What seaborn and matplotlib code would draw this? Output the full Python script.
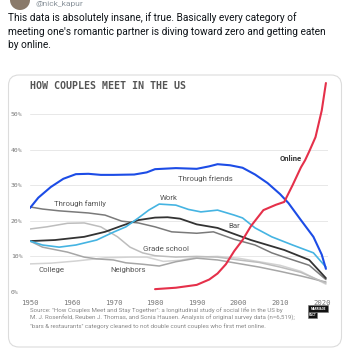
import numpy as np
import pandas as pd
import matplotlib
matplotlib.use('Agg')
import matplotlib.pyplot as plt
import seaborn as sns
from matplotlib.patches import FancyBboxPatch, Rectangle, Circle

# data (share of couples, %)
friends_years = [1950, 1952, 1955, 1958, 1961, 1964, 1967, 1970, 1975, 1978, 1980, 1985, 1990, 1993, 1995, 1998, 2001, 2004, 2007, 2010, 2012, 2015, 2018, 2020, 2021]
friends_vals = [23.6, 26.5, 29.5, 31.8, 33.1, 33.2, 32.9, 32.9, 33.0, 33.6, 34.5, 34.8, 34.6, 35.3, 35.9, 35.6, 34.9, 33.0, 30.6, 27.5, 25.0, 20.2, 15.5, 10.5, 6.5]

online_years = [1980, 1985, 1990, 1993, 1995, 1997, 1999, 2001, 2003, 2006, 2009, 2011, 2013, 2015, 2016, 2017, 2018.5, 2020, 2021]
online_vals = [0.8, 1.2, 2.0, 3.5, 5.2, 7.8, 11.5, 14.6, 18.5, 23.0, 24.5, 25.3, 30.0, 35.0, 37.0, 39.5, 43.5, 51.0, 58.7]

work_years = [1950, 1953, 1957, 1961, 1966, 1970, 1973, 1976, 1978.5, 1981, 1985, 1988, 1991, 1995, 1999, 2001, 2004, 2008, 2013, 2018, 2021]
work_vals = [14.3, 13.2, 12.6, 13.2, 14.6, 16.8, 18.3, 20.8, 23.0, 24.7, 24.4, 23.2, 22.5, 23.0, 21.6, 20.8, 18.0, 15.5, 13.2, 11.0, 7.0]

bar_years = [1950, 1956, 1963, 1968, 1972, 1976, 1980, 1983, 1986, 1990, 1995, 1999, 2003, 2007, 2011, 2017, 2021]
bar_vals = [14.3, 14.6, 15.5, 16.9, 18.6, 20.2, 20.9, 21.0, 20.6, 19.0, 18.0, 16.3, 14.6, 13.2, 11.8, 9.0, 3.9]

family_years = [1950, 1953, 1957, 1964, 1968, 1972, 1976, 1980, 1984, 1990, 1994, 1999, 2004, 2008, 2011, 2017, 2021]
family_vals = [23.9, 23.3, 22.8, 22.2, 21.6, 19.9, 19.4, 18.3, 16.9, 16.5, 16.9, 14.8, 13.2, 11.0, 9.8, 7.5, 3.5]

school_years = [1950, 1954, 1959, 1963, 1967, 1971, 1974, 1977, 1980, 1985, 1990, 1995, 2000, 2005, 2010, 2015, 2021]
school_vals = [17.7, 18.3, 19.3, 19.4, 18.3, 15.5, 12.6, 11.0, 10.2, 9.8, 10.0, 9.8, 9.0, 8.3, 7.0, 5.5, 2.5]

neighbors_years = [1950, 1953, 1959, 1963, 1966, 1970, 1973, 1977, 1981, 1985, 1990, 1995, 2000, 2005, 2010, 2015, 2021]
neighbors_vals = [14.3, 12.6, 11.2, 9.8, 9.3, 9.0, 8.2, 7.8, 7.3, 8.5, 9.5, 9.0, 8.0, 7.0, 5.8, 4.5, 2.8]

college_years = [1950, 1955, 1961, 1968, 1974, 1978, 1982, 1986, 1990, 1995, 2000, 2005, 2010, 2015, 2021]
college_vals = [7.9, 8.1, 8.7, 9.6, 9.8, 9.8, 8.6, 8.9, 9.8, 10.0, 9.5, 8.5, 7.5, 5.8, 2.2]

year_ticks = [1950, 1960, 1970, 1980, 1990, 2000, 2010, 2020]
pct_ticks = [0, 10, 20, 30, 40, 50]

series = [
    ('College', college_years, college_vals, '#d3d3d3', 1.1),
    ('Neighbors', neighbors_years, neighbors_vals, '#a6a6a6', 1.1),
    ('Grade school', school_years, school_vals, '#bdbdbd', 1.1),
    ('Through family', family_years, family_vals, '#7a7a7a', 1.1),
    ('Bar', bar_years, bar_vals, '#333333', 1.3),
    ('Work', work_years, work_vals, '#45b4e2', 1.2),
    ('Through friends', friends_years, friends_vals, '#1c4ce6', 1.5),
    ('Online', online_years, online_vals, '#e5304a', 1.5),
]

frames = []
for name, yrs, vals, _, _ in series:
    frames.append(pd.DataFrame({'year': yrs, 'share': vals, 'how': name}))
df = pd.concat(frames, ignore_index=True)

sns.set_style('white')
plt.rcParams['font.family'] = ['Roboto', 'DejaVu Sans']

fig = plt.figure(figsize=(3.5, 3.5), dpi=100)
fig.patch.set_facecolor('white')

# tweet header
fig.patches.append(Circle((20 / 350, 1 - 0 / 350), 10 / 350, transform=fig.transFigure,
                          facecolor='#8a7a6a', edgecolor='none'))
fig.text(36 / 350, 1 - 4 / 350, '@nick_kapur', fontsize=6, color='#8b949c', va='center')
tweet = ("This data is absolutely insane, if true. Basically every category of\n"
         "meeting one's romantic partner is diving toward zero and getting eaten\n"
         "by online.")
fig.text(8 / 350, 1 - 12 / 350, tweet, fontsize=7.25, color='#0f1419', va='top', linespacing=1.45)

# card
fig.patches.append(FancyBboxPatch((8.5 / 350, 3 / 350), 333 / 350, 272 / 350,
                                  boxstyle='round,pad=0,rounding_size=0.03',
                                  transform=fig.transFigure, facecolor='none',
                                  edgecolor='#dcdcdc', linewidth=0.8, zorder=-1))

ax = fig.add_axes([30 / 350, 1 - 292 / 350, 298 / 350, 213.6 / 350])
ax.set_facecolor('none')
for name, _, _, c, lw in series:
    sns.lineplot(data=df[df['how'] == name], x='year', y='share', color=c,
                 linewidth=lw, ax=ax, legend=False, estimator=None)

ax.set_xlim(1950, 2021.5)
ax.set_ylim(0, 60)
ax.set_xticks(year_ticks)
ax.set_yticks(pct_ticks)
ax.set_xticklabels([str(y) for y in year_ticks], family='DejaVu Sans Mono', fontsize=5.2, color='#777777')
ax.set_yticklabels([f'{p}%' for p in pct_ticks], family='DejaVu Sans Mono', fontsize=4.6, color='#777777')
ax.tick_params(length=0)
for lab in ax.get_yticklabels():
    lab.set_horizontalalignment('left')
ax.tick_params(axis='y', pad=13.7)
ax.tick_params(axis='x', pad=6)
ax.grid(axis='y', color='#e8e8e8', linewidth=0.7)
ax.grid(axis='x', visible=False)
for s in ax.spines.values():
    s.set_visible(False)
ax.set_xlabel('')
ax.set_ylabel('')

# line labels
label_pos = {
    'Through friends': (1992, 31.8),
    'Online': (2012.6, 37.5),
    'Work': (1983.2, 26.4),
    'Through family': (1962, 24.7),
    'Bar': (1999, 18.5),
    'Grade school': (1982.7, 12.1),
    'College': (1955.2, 6.2),
    'Neighbors': (1973.5, 6.2),
}
for name, (lx, ly) in label_pos.items():
    bold = name == 'Online'
    ax.text(lx, ly, name, fontsize=5.6, color='#333333' if bold else '#555555',
            fontweight='bold' if bold else 'normal', ha='center', va='center',
            fontstretch='condensed')

fig.text(30 / 350, 1 - 86 / 350, 'HOW COUPLES MEET IN THE US', family='DejaVu Sans Mono',
         fontsize=7.2, fontweight='bold', color='#555555', va='center')

source = ('Source: "How Couples Meet and Stay Together": a longitudinal study of social life in the US by\n'
          'M. J. Rosenfeld, Reuben J. Thomas, and Sonia Hausen. Analysis of original survey data (n=6,519);\n'
          '"bars & restaurants" category cleaned to not double count couples who first met online.')
fig.text(30 / 350, 1 - 307.5 / 350, source, fontsize=4.4, color='#888888', va='top', linespacing=1.47)

# logo
fig.patches.append(Rectangle((308 / 350, 1 - 312 / 350), 20 / 350, 7 / 350,
                             transform=fig.transFigure, facecolor='#111111', edgecolor='#777777', lw=0.4))
fig.patches.append(Rectangle((308 / 350, 1 - 318 / 350), 9 / 350, 6.5 / 350,
                             transform=fig.transFigure, facecolor='#111111', edgecolor='#777777', lw=0.4))
fig.text(318 / 350, 1 - 308.5 / 350, 'MARRIAGE', fontsize=2.2, color='white', ha='center', va='center', fontweight='bold')
fig.text(312.5 / 350, 1 - 315 / 350, 'PACT', fontsize=2.2, color='white', ha='center', va='center', fontweight='bold')

fig.savefig('out.png', dpi=100, facecolor='white')
